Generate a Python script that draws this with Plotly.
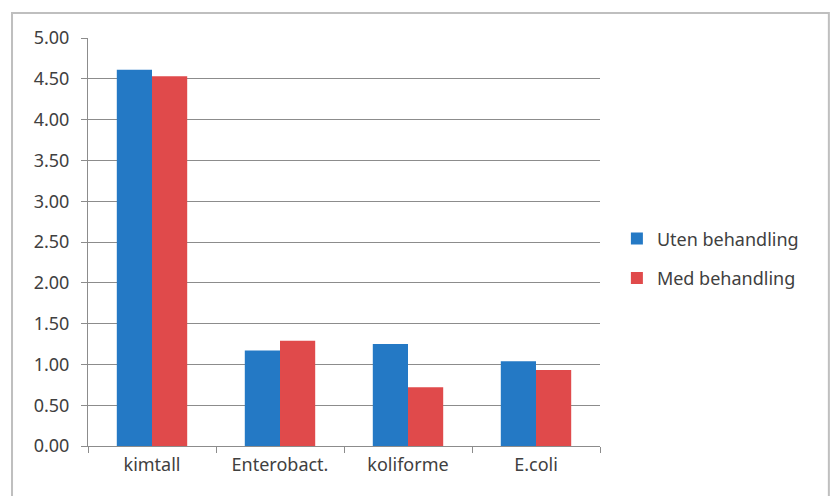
import plotly.graph_objects as go

categories = ["kimtall", "Enterobact.", "koliforme", "E.coli"]
uten_behandling = [4.61, 1.17, 1.25, 1.04]
med_behandling = [4.53, 1.29, 0.72, 0.93]
y_ticks = [0, 0.5, 1, 1.5, 2, 2.5, 3, 3.5, 4, 4.5, 5]
y_tick_labels = [f"{v:.2f}" for v in y_ticks]

BLUE = "#2479C5"
RED = "#E04A4B"
FONT = "Noto Sans"
TEXT = "#404040"
AXIS = "#8C8C8C"

fig = go.Figure()
fig.add_trace(go.Bar(x=categories, y=uten_behandling, name="Uten behandling",
                     marker=dict(color=BLUE, line=dict(width=0)), legendgroup="a"))
fig.add_trace(go.Bar(x=categories, y=med_behandling, name="Med behandling",
                     marker=dict(color=RED, line=dict(width=0)), legendgroup="b"))

# outer chart frame
fig.add_shape(type="rect", xref="paper", yref="paper",
              x0=-0.1484, x1=1.447, y0=-0.2, y1=1.0613,
              line=dict(color="#BFBFBF", width=2), layer="below")

fig.update_layout(
    width=834, height=496,
    margin=dict(l=88, r=234, t=38, b=50),
    paper_bgcolor="white", plot_bgcolor="white",
    barmode="group", bargap=0.45, bargroupgap=0,
    font=dict(family=FONT, size=18, color=TEXT),
    showlegend=True,
    legend=dict(x=1.033, y=0.46, xanchor="left", yanchor="middle",
                traceorder="grouped", tracegroupgap=13,
                font=dict(size=18, color=TEXT), bgcolor="rgba(0,0,0,0)"),
    xaxis=dict(showline=True, linecolor=AXIS, linewidth=1,
               ticks="outside", tickson="boundaries", ticklen=6, tickcolor=AXIS,
               ticklabelstandoff=2,
               tickfont=dict(size=18, color=TEXT), showgrid=False),
    yaxis=dict(range=[0, 5], tickvals=y_ticks, ticktext=y_tick_labels,
               showline=True, linecolor=AXIS, linewidth=1,
               ticks="outside", ticklen=6, tickcolor=AXIS,
               ticklabelstandoff=8,
               showgrid=True, gridcolor=AXIS, gridwidth=1,
               zeroline=False, tickfont=dict(size=18, color=TEXT)),
)

fig.write_html("out.html")
